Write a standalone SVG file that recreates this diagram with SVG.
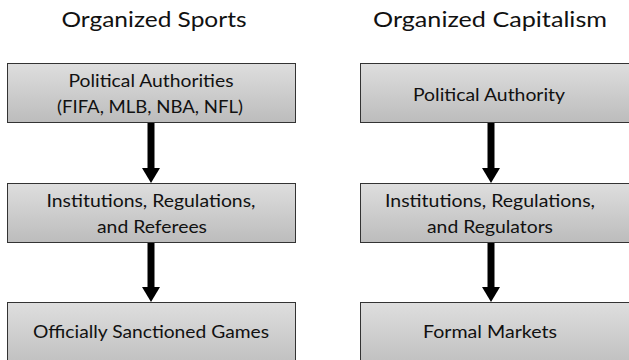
<svg xmlns="http://www.w3.org/2000/svg" width="629" height="360" viewBox="0 0 629 360">
<style>
text{font-family:Lato,"Liberation Sans",sans-serif;fill:#111;text-anchor:middle}
.t{font-size:22px}
.b{font-size:16.5px}
.box{fill:url(#g);stroke:#333;stroke-width:1}
.sh{stroke:#000;stroke-width:7}
.hd{fill:#000}
</style>
<defs>
<linearGradient id="g" x1="0" y1="0" x2="0" y2="1">
<stop offset="0" stop-color="#dedede"/>
<stop offset="1" stop-color="#bcbcbc"/>
</linearGradient>
</defs>
<text class="t" x="154" y="27" textLength="185" lengthAdjust="spacingAndGlyphs">Organized Sports</text>
<text class="t" x="490" y="27" textLength="234" lengthAdjust="spacingAndGlyphs">Organized Capitalism</text>
<g id="connectors">
<line class="sh" x1="151" y1="123" x2="151" y2="169"/><polygon class="hd" points="142,168 160,168 151,183"/>
<line class="sh" x1="151" y1="243" x2="151" y2="288"/><polygon class="hd" points="142,287 160,287 151,302"/>
<line class="sh" x1="491" y1="123" x2="491" y2="169"/><polygon class="hd" points="482,168 500,168 491,183"/>
<line class="sh" x1="491" y1="243" x2="491" y2="288"/><polygon class="hd" points="482,287 500,287 491,302"/>
</g>
<g id="sports-authorities">
<rect class="box" x="7.5" y="63.5" width="288" height="59"/>
<text class="b" x="151" y="87" textLength="165" lengthAdjust="spacingAndGlyphs">Political Authorities</text>
<text class="b" x="150" y="113" textLength="186" lengthAdjust="spacingAndGlyphs">(FIFA, MLB, NBA, NFL)</text>
</g>
<g id="sports-institutions">
<rect class="box" x="7.5" y="183.5" width="288" height="59"/>
<text class="b" x="151" y="207" textLength="209" lengthAdjust="spacingAndGlyphs">Institutions, Regulations,</text>
<text class="b" x="152" y="233" textLength="110" lengthAdjust="spacingAndGlyphs">and Referees</text>
</g>
<g id="sports-games">
<rect class="box" x="7.5" y="302.5" width="288" height="70"/>
<text class="b" x="151" y="338" textLength="236" lengthAdjust="spacingAndGlyphs">Officially Sanctioned Games</text>
</g>
<g id="cap-authority">
<rect class="box" x="360.5" y="63.5" width="290" height="59"/>
<text class="b" x="489" y="101" textLength="152" lengthAdjust="spacingAndGlyphs">Political Authority</text>
</g>
<g id="cap-institutions">
<rect class="box" x="360.5" y="183.5" width="290" height="59"/>
<text class="b" x="490" y="207" textLength="210" lengthAdjust="spacingAndGlyphs">Institutions, Regulations,</text>
<text class="b" x="490" y="233" textLength="126" lengthAdjust="spacingAndGlyphs">and Regulators</text>
</g>
<g id="cap-markets">
<rect class="box" x="360.5" y="302.5" width="290" height="70"/>
<text class="b" x="490" y="338" textLength="134" lengthAdjust="spacingAndGlyphs">Formal Markets</text>
</g>
</svg>
